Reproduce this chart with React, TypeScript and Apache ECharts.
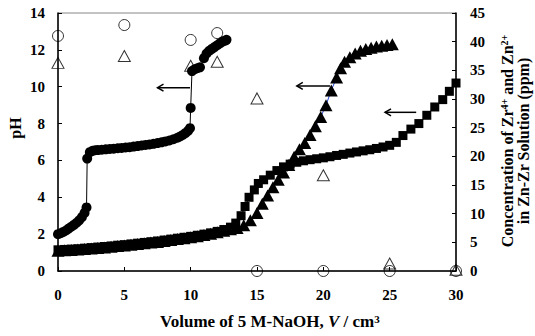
import React, { useEffect, useRef } from "react";
import * as echarts from "echarts";

// pH titration curves (x: volume of 5 M NaOH / cm3, y: pH)
const phCircles: number[][] = [
  [0, 2.0], [0.2, 2.05], [0.4, 2.12], [0.6, 2.2], [0.8, 2.3], [1.0, 2.4], [1.2, 2.5], [1.4, 2.62],
  [1.6, 2.75], [1.8, 2.92], [2.0, 3.15], [2.15, 3.45], [2.2, 6.1], [2.4, 6.45], [2.6, 6.52], [2.8, 6.55],
  [3.0, 6.56], [3.3, 6.58], [3.6, 6.6], [3.9, 6.62], [4.2, 6.64], [4.5, 6.66], [4.8, 6.68], [5.1, 6.7],
  [5.4, 6.72], [5.7, 6.75], [6.0, 6.78], [6.3, 6.81], [6.6, 6.84], [6.9, 6.87], [7.2, 6.9], [7.5, 6.94],
  [7.8, 6.98], [8.1, 7.03], [8.4, 7.08], [8.7, 7.15], [9.0, 7.23], [9.2, 7.3], [9.4, 7.38], [9.6, 7.48],
  [9.8, 7.6], [9.95, 7.75], [10.0, 8.85], [10.1, 10.85], [10.3, 10.95], [10.5, 11.0], [10.7, 11.05],
  [11.0, 11.55], [11.2, 11.8], [11.4, 11.95], [11.6, 12.05], [11.8, 12.15], [12.0, 12.25], [12.2, 12.35],
  [12.4, 12.45], [12.6, 12.5], [12.7, 12.55],
];

const phSquares: number[][] = [
  [0, 1.15], [0.5, 1.17], [1, 1.19], [1.5, 1.21], [2, 1.24], [2.5, 1.27], [3, 1.3], [3.5, 1.33],
  [4, 1.36], [4.5, 1.4], [5, 1.43], [5.5, 1.47], [6, 1.51], [6.5, 1.55], [7, 1.59], [7.5, 1.63],
  [8, 1.68], [8.5, 1.73], [9, 1.78], [9.5, 1.83], [10, 1.88], [10.5, 1.94], [11, 2.0], [11.5, 2.07],
  [12, 2.15], [12.5, 2.25], [13, 2.38], [13.4, 2.6], [13.8, 3.0], [14.1, 3.5], [14.4, 4.0], [14.8, 4.4],
  [15.1, 4.75], [15.5, 4.95], [16.0, 5.2], [16.5, 5.45], [17.0, 5.65], [17.5, 5.8], [18.0, 5.9],
  [18.5, 5.98], [19.0, 6.04], [19.5, 6.09], [20, 6.14], [20.5, 6.2], [21, 6.27], [21.5, 6.33],
  [22, 6.4], [22.5, 6.46], [23, 6.52], [23.5, 6.58], [24, 6.65], [24.5, 6.73], [25, 6.82], [25.5, 6.98],
  [26, 7.35], [26.6, 7.7], [27.2, 8.0], [27.8, 8.45], [28.4, 8.9], [29.0, 9.3], [29.5, 9.75], [30, 10.2],
];

const phTriangles: number[][] = [
  [0, 1.1], [0.5, 1.12], [1, 1.14], [1.5, 1.16], [2, 1.19], [2.5, 1.22], [3, 1.25], [3.5, 1.28],
  [4, 1.31], [4.5, 1.35], [5, 1.38], [5.5, 1.42], [6, 1.46], [6.5, 1.5], [7, 1.54], [7.5, 1.58],
  [8, 1.63], [8.5, 1.68], [9, 1.73], [9.5, 1.78], [10, 1.83], [10.5, 1.89], [11, 1.95], [11.5, 2.02],
  [12, 2.1], [12.5, 2.18], [13, 2.26], [13.5, 2.34], [14.0, 2.48], [14.5, 2.75], [15.0, 3.15],
  [15.4, 3.65], [15.8, 4.1], [16.2, 4.55], [16.6, 4.95], [17.0, 5.35], [17.4, 5.75], [17.8, 6.2],
  [18.2, 6.6], [18.6, 6.95], [19.0, 7.38], [19.4, 7.85], [19.8, 8.35], [20.2, 9.0], [20.6, 9.8],
  [21.0, 10.5], [21.3, 11.0], [21.6, 11.35], [22.0, 11.6], [22.4, 11.8], [22.8, 11.95], [23.2, 12.05],
  [23.6, 12.12], [24.0, 12.18], [24.4, 12.22], [24.8, 12.27], [25.2, 12.3],
];

// Concentrations (ppm, right axis)
const concZr: number[][] = [[0, 41], [5, 42.9], [10, 40.3], [12, 41.5], [15, 0], [20, 0], [25, 0], [30, 0]];
const concZn: number[][] = [[0, 36.3], [5, 37.5], [10, 35.8], [12, 36.5], [15, 30.1], [20, 16.7], [25, 1.3], [30, 0.2]];

// Arrows (data coords, pH axis): [xStart, xEnd, pH]
const arrows: number[][] = [[9.95, 7.5, 9.95], [20.5, 18.0, 10.04], [27.0, 24.65, 8.61]];

const xTicks = { min: 0, max: 30, interval: 5 };
const phTicks = { min: 0, max: 14, interval: 2 };
const ppmTicks = { min: 0, max: 45, interval: 5 };

const FONT = "'Liberation Serif', 'Times New Roman', serif";

export default function App() {
  const ref = useRef<HTMLDivElement>(null);
  useEffect(() => {
    if (!ref.current) return;
    const chart = echarts.init(ref.current, undefined, { renderer: "svg" });
    const axisLabel = { color: "#000", fontFamily: FONT, fontWeight: "bold" as const, fontSize: 15 };
    const axisLine = { show: true, lineStyle: { color: "#000", width: 1.5 } };
    const axisTick = { show: true, inside: true, length: 4, lineStyle: { color: "#000", width: 1 } };
    const openStyle = { color: "rgba(0,0,0,0)", borderColor: "#000", borderWidth: 1 };
    chart.setOption({
      animation: false,
      grid: { left: 58, right: 79, top: 13, bottom: 65, show: true, borderColor: "#888", borderWidth: 1 },
      xAxis: {
        type: "value", ...xTicks, axisLine, axisTick, splitLine: { show: false },
        axisLabel: { ...axisLabel, margin: 16 },
      },
      yAxis: [
        {
          type: "value", ...phTicks, axisLine, axisTick, splitLine: { show: false },
          axisLabel: { ...axisLabel, margin: 13 },
        },
        {
          type: "value", position: "right", ...ppmTicks, axisLine, axisTick, splitLine: { show: false },
          axisLabel: { ...axisLabel, margin: 14 },
        },
      ],
      series: [
        {
          type: "line", data: phSquares, symbol: "rect", symbolSize: 9,
          lineStyle: { color: "#000", width: 1 }, itemStyle: { color: "#000" },
        },
        {
          type: "line", data: phTriangles, symbol: "triangle", symbolSize: [13, 12],
          lineStyle: { color: "#2040d0", width: 1 }, itemStyle: { color: "#000" },
        },
        {
          type: "line", data: phCircles, symbol: "circle", symbolSize: 10,
          lineStyle: { color: "#000", width: 1 }, itemStyle: { color: "#000" },
        },
        {
          type: "scatter", yAxisIndex: 1, data: concZr, symbol: "circle", symbolSize: 11,
          itemStyle: openStyle,
        },
        {
          type: "scatter", yAxisIndex: 1, data: concZn, symbol: "triangle", symbolSize: [12, 11],
          itemStyle: openStyle,
        },
      ],
      graphic: [
        {
          type: "text", left: 160, top: 313,
          style: {
            text: "{b|Volume of 5 M-NaOH, }{i|V}{b| / cm}{s|3}",
            rich: {
              b: { fontFamily: FONT, fontWeight: "bold", fontSize: 17, fill: "#000" },
              i: { fontFamily: FONT, fontWeight: "bold", fontStyle: "italic", fontSize: 17, fill: "#000" },
              s: { fontFamily: FONT, fontWeight: "bold", fontSize: 11, fill: "#000", verticalAlign: "top" },
            },
          },
        },
        {
          type: "text", x: 15, y: 128, rotation: Math.PI / 2,
          style: {
            text: "pH", fontFamily: FONT, fontWeight: "bold", fontSize: 16, fill: "#000",
            align: "center", verticalAlign: "middle",
          },
        },
        {
          type: "text", x: 507, y: 141, rotation: Math.PI / 2,
          style: {
            text: "{b|Concentration of Zr}{s|4+}{b| and Zn}{s|2+}",
            align: "center", verticalAlign: "middle",
            rich: {
              b: { fontFamily: FONT, fontWeight: "bold", fontSize: 16, fill: "#000" },
              s: { fontFamily: FONT, fontWeight: "bold", fontSize: 10, fill: "#000", verticalAlign: "top" },
            },
          },
        },
        {
          type: "text", x: 523, y: 141, rotation: Math.PI / 2,
          style: {
            text: "in Zn-Zr Solution (ppm)", fontFamily: FONT, fontWeight: "bold", fontSize: 16, fill: "#000",
            align: "center", verticalAlign: "middle",
          },
        },
      ],
    });
    const arrowGraphics: any[] = [];
    arrows.forEach((a, i) => {
      const p0 = chart.convertToPixel({ xAxisIndex: 0, yAxisIndex: 0 }, [a[0], a[2]]) as number[];
      const p1 = chart.convertToPixel({ xAxisIndex: 0, yAxisIndex: 0 }, [a[1], a[2]]) as number[];
      arrowGraphics.push({
        type: "line", id: "arrowL" + i,
        shape: { x1: p0[0], y1: p0[1], x2: p1[0], y2: p1[1] },
        style: { stroke: "#000", lineWidth: 1.5 },
      });
      arrowGraphics.push({
        type: "polyline", id: "arrowH" + i,
        shape: { points: [[p1[0] + 6, p1[1] - 3.5], [p1[0], p1[1]], [p1[0] + 6, p1[1] + 3.5]] },
        style: { stroke: "#000", lineWidth: 1.5, fill: "none" },
      });
    });
    chart.setOption({ graphic: arrowGraphics });
    return () => chart.dispose();
  }, []);
  return <div ref={ref} style={{ position: "absolute", left: 0, top: 0, width: 535, height: 336 }} />;
}
